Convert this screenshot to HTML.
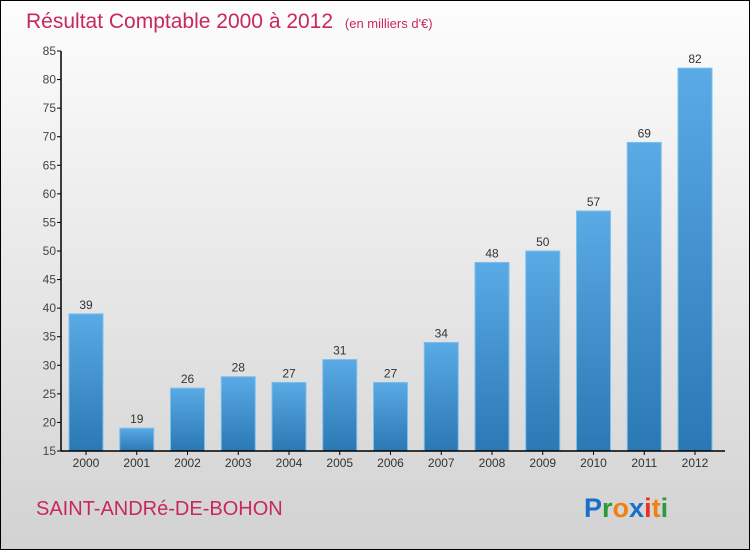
<!DOCTYPE html>
<html><head><meta charset="utf-8"><style>
body{margin:0}
#c{width:748px;height:548px;border:1px solid #000;position:relative;overflow:hidden;background:linear-gradient(#fdfdfd,#d2d2d2);font-family:"Liberation Sans",sans-serif}
</style></head><body>
<div id="c">
<svg width="748" height="548">
<defs><linearGradient id="g" x1="0" y1="0" x2="0" y2="1"><stop offset="0" stop-color="#5aaae6"/><stop offset="1" stop-color="#2a78b4"/></linearGradient></defs>
<text x="25" y="27" font-size="21" fill="#c8285a">Résultat Comptable 2000 à 2012 <tspan font-size="13" dx="6">(en milliers d'€)</tspan></text>
<g id="plot"></g>
<text x="35" y="514" font-size="20" fill="#c8285a">SAINT-ANDRé-DE-BOHON</text>
<text x="583" y="516" font-size="27" font-weight="bold"><tspan fill="#1a6fc8">P</tspan><tspan fill="#2a9a3a">r</tspan><tspan fill="#f08010">o</tspan><tspan fill="#1a6fc8">x</tspan><tspan fill="#e83020">i</tspan><tspan fill="#f08010">t</tspan><tspan fill="#2a9a3a">i</tspan></text>
</svg></div>
<script>
const years=["2000","2001","2002","2003","2004","2005","2006","2007","2008","2009","2010","2011","2012"];
const values=[39,19,26,28,27,31,27,34,48,50,57,69,82];
const ticks=[15,20,25,30,35,40,45,50,55,60,65,70,75,80,85];
const NS="http://www.w3.org/2000/svg",g=document.getElementById('plot');
const y=v=>450-(v-15)*400/70, x=i=>85+i*50.75;
function mk(t,a,txt){const e=document.createElementNS(NS,t);for(const k in a)e.setAttribute(k,a[k]);if(txt!=null)e.textContent=txt;g.appendChild(e);return e;}
ticks.forEach(t=>{
const l=mk('line',{x1:56,x2:60,y1:y(t),y2:y(t),stroke:'#000'});

const s=mk('text',{x:55,y:y(t)+4,'font-size':12,fill:'#444','text-anchor':'end'},t);

});
values.forEach((v,i)=>{
const r=mk('rect',{x:x(i)-17,y:y(v),width:34,height:450-y(v),fill:'url(#g)',stroke:'#7cc0ee','stroke-width':1});

const t=mk('text',{x:x(i),y:y(v)-5,'font-size':12,fill:'#333','text-anchor':'middle'},v);

const k=mk('text',{x:x(i),y:466,'font-size':12,fill:'#333','text-anchor':'middle'},years[i]);

const tk=mk('line',{x1:x(i),x2:x(i),y1:450,y2:454,stroke:'#000'});

});
const ya=mk('line',{x1:60,x2:60,y1:y(85),y2:450,stroke:'#000','stroke-width':1.5});

const xa=mk('line',{x1:60,x2:724,y1:450,y2:450,stroke:'#000','stroke-width':1.5});

</script></body></html>
